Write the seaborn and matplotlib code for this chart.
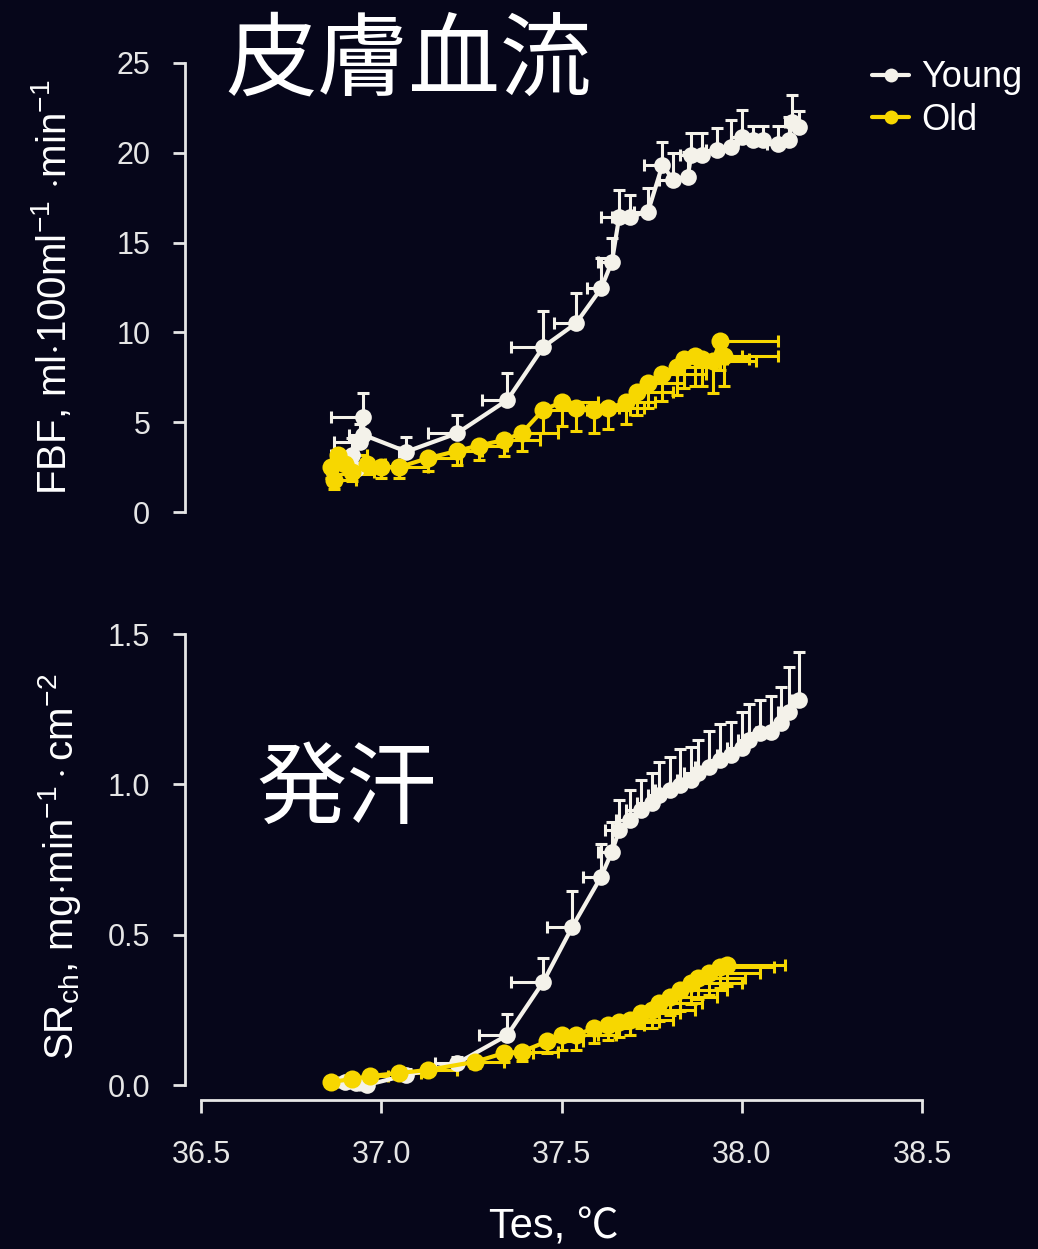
import numpy as np
import pandas as pd
import seaborn as sns
import matplotlib.pyplot as plt
from matplotlib.lines import Line2D

# valores
young_fbf_x = [36.93, 36.92, 36.94, 36.95, 36.95, 37.07, 37.21, 37.35, 37.45, 37.54, 37.61, 37.64, 37.66,
               37.69, 37.74, 37.78, 37.81, 37.85, 37.86, 37.89, 37.93, 37.97, 38.00, 38.03, 38.06, 38.10,
               38.13, 38.14, 38.16]
young_fbf_y = [2.4, 3.2, 3.9, 5.3, 4.3, 3.36, 4.38, 6.24, 9.2, 10.5, 12.45, 13.94, 16.44,
               16.44, 16.72, 19.32, 18.49, 18.67, 19.88, 19.88, 20.16, 20.34, 20.9, 20.7, 20.7, 20.5,
               20.7, 21.7, 21.45]
young_fbf_yerr = [0.8, 0.9, 1.0, 1.3, 1.0, 0.8, 1.0, 1.5, 2.0, 1.7, 1.7, 1.3, 1.5,
                  1.2, 1.3, 1.3, 1.5, 1.4, 1.2, 1.2, 1.2, 1.5, 1.5, 0.8, 0.8, 1.0,
                  1.3, 1.5, 0.9]
young_fbf_xerr = [0.08, 0.06, 0.07, 0.09, 0.04, 0.02, 0.08, 0.07, 0.09, 0.06, 0.04, 0.04, 0.05,
                  0.05, 0.04, 0.05, 0.04, 0.04, 0.03, 0.04, 0.03, 0.04, 0.03, 0.04, 0.04, 0.03,
                  0.03, 0.02, 0.03]

old_fbf_x = [36.86, 36.87, 36.88, 36.90, 36.92, 36.96, 37.00, 37.05, 37.13, 37.21, 37.27, 37.34, 37.39,
             37.45, 37.50, 37.54, 37.59, 37.63, 37.68, 37.71, 37.74, 37.78, 37.82, 37.84, 37.87, 37.89,
             37.92, 37.94, 37.95]
old_fbf_y = [2.5, 1.8, 3.2, 2.7, 2.2, 2.7, 2.5, 2.5, 3.0, 3.4, 3.7, 4.0, 4.4,
             5.7, 6.1, 5.8, 5.7, 5.8, 6.1, 6.7, 7.2, 7.7, 8.1, 8.5, 8.7, 8.5,
             8.4, 9.5, 8.7]
old_fbf_yerr = [0.6, 0.5, 0.7, 0.6, 0.5, 0.6, 0.6, 0.6, 0.7, 0.8, 0.8, 0.9, 1.0,
                1.3, 1.3, 1.3, 1.3, 1.2, 1.2, 1.3, 1.4, 1.5, 1.6, 1.6, 1.7, 1.5,
                1.8, 1.6, 1.7]
old_fbf_xerr = [0.05, 0.06, 0.08, 0.05, 0.06, 0.05, 0.06, 0.08, 0.09, 0.07, 0.08, 0.10, 0.10,
                0.12, 0.10, 0.12, 0.10, 0.10, 0.08, 0.10, 0.10, 0.12, 0.10, 0.12, 0.13, 0.13,
                0.12, 0.16, 0.15]

young_sr_x = [36.90, 36.93, 36.96, 37.07, 37.21, 37.35, 37.45, 37.53, 37.61, 37.64, 37.66, 37.69,
              37.72, 37.75, 37.77, 37.80, 37.83, 37.86, 37.88, 37.91, 37.94, 37.97, 38.00, 38.02,
              38.05, 38.08, 38.11, 38.13, 38.16]
young_sr_y = [0.01, 0.005, 0.0, 0.033, 0.072, 0.166, 0.344, 0.526, 0.693, 0.776, 0.848, 0.881,
              0.915, 0.938, 0.964, 0.981, 0.998, 1.014, 1.037, 1.058, 1.081, 1.097, 1.12, 1.147,
              1.17, 1.174, 1.204, 1.24, 1.28]
young_sr_yerr = [0.01, 0.01, 0.01, 0.02, 0.02, 0.07, 0.08, 0.12, 0.11, 0.10, 0.10, 0.10,
                 0.10, 0.10, 0.11, 0.11, 0.12, 0.11, 0.11, 0.12, 0.12, 0.11, 0.12, 0.12,
                 0.11, 0.12, 0.12, 0.15, 0.16]
young_sr_xerr = [0.02, 0.02, 0.02, 0.02, 0.06, 0.08, 0.09, 0.07, 0.05, 0.04, 0.04, 0.04,
                 0.04, 0.04, 0.03, 0.04, 0.03, 0.04, 0.04, 0.04, 0.03, 0.04, 0.04, 0.03,
                 0.03, 0.04, 0.03, 0.03, 0.02]

old_sr_x = [36.86, 36.92, 36.97, 37.05, 37.13, 37.26, 37.34, 37.39, 37.46, 37.50, 37.54, 37.59,
            37.63, 37.66, 37.69, 37.72, 37.75, 37.77, 37.80, 37.83, 37.86, 37.88, 37.91, 37.94, 37.96]
old_sr_y = [0.01, 0.02, 0.03, 0.04, 0.05, 0.077, 0.106, 0.111, 0.145, 0.166, 0.166, 0.189,
            0.2, 0.211, 0.216, 0.238, 0.249, 0.272, 0.294, 0.316, 0.338, 0.355, 0.371, 0.393, 0.399]
old_sr_yerr = [0.01, 0.01, 0.01, 0.01, 0.015, 0.02, 0.03, 0.03, 0.04, 0.05, 0.05, 0.05,
               0.05, 0.05, 0.05, 0.05, 0.06, 0.06, 0.06, 0.07, 0.07, 0.07, 0.07, 0.07, 0.07]
old_sr_xerr = [0.03, 0.04, 0.05, 0.06, 0.08, 0.08, 0.08, 0.10, 0.10, 0.10, 0.11, 0.10,
               0.10, 0.11, 0.12, 0.11, 0.12, 0.12, 0.13, 0.13, 0.14, 0.13, 0.14, 0.15, 0.16]

groups = ['Young', 'Old']
colores = {'Young': '#f4f2ea', 'Old': '#f7d700'}
fondo = '#06061a'
eje = '#e6e6e6'

sns.set_theme(style='dark')
plt.rcParams['font.family'] = ['Liberation Sans', 'Noto Sans CJK JP', 'DejaVu Sans']
plt.rcParams['mathtext.fontset'] = 'custom'
plt.rcParams['mathtext.rm'] = 'Liberation Sans'
plt.rcParams['mathtext.it'] = 'Liberation Sans'

fbf = pd.concat([
    pd.DataFrame({'Tes': young_fbf_x, 'val': young_fbf_y, 'grupo': 'Young'}),
    pd.DataFrame({'Tes': old_fbf_x, 'val': old_fbf_y, 'grupo': 'Old'}),
])
sr = pd.concat([
    pd.DataFrame({'Tes': young_sr_x, 'val': young_sr_y, 'grupo': 'Young'}),
    pd.DataFrame({'Tes': old_sr_x, 'val': old_sr_y, 'grupo': 'Old'}),
])

fig = plt.figure(figsize=(10.38, 12.49), dpi=100, facecolor=fondo)
W, H = 1038, 1249
x0 = 36.5 - 16 / 360.5
ax1 = fig.add_axes([185 / W, 1 - 512 / H, (922 - 185) / W, 449 / H])
ax2 = fig.add_axes([185 / W, 1 - 1100 / H, (922 - 185) / W, 466 / H])


def dibujar(ax, df, errs):
    # barras de error de un solo lado: Young arriba/izquierda, Old abajo/derecha
    for g in groups:
        d = df[df['grupo'] == g]
        xe, ye = errs[g]
        z = np.zeros(len(d))
        if g == 'Young':
            xerr, yerr = [xe, z], [z, ye]
        else:
            xerr, yerr = [z, xe], [ye, z]
        ax.errorbar(d['Tes'], d['val'], xerr=xerr, yerr=yerr, fmt='none',
                    ecolor=colores[g], elinewidth=2.2, capsize=4.5, capthick=2.2,
                    clip_on=False, zorder=2)
    for g in groups:
        d = df[df['grupo'] == g]
        sns.lineplot(data=d, x='Tes', y='val', color=colores[g], sort=False,
                     marker='o', markersize=12 if g == 'Young' else 13,
                     markeredgewidth=0, linewidth=3, ax=ax, legend=False,
                     estimator=None, clip_on=False, zorder=3)


dibujar(ax1, fbf, {'Young': (young_fbf_xerr, young_fbf_yerr), 'Old': (old_fbf_xerr, old_fbf_yerr)})
dibujar(ax2, sr, {'Young': (young_sr_xerr, young_sr_yerr), 'Old': (old_sr_xerr, old_sr_yerr)})

for ax in (ax1, ax2):
    ax.set_facecolor(fondo)
    ax.set_xlim(x0, 38.5)
    ax.grid(False)
    for s in ['top', 'right']:
        ax.spines[s].set_visible(False)
    ax.spines['left'].set_color(eje)
    ax.spines['left'].set_linewidth(2)
    ax.tick_params(axis='y', colors=eje, labelsize=22, length=9, width=2, direction='out',
                   left=True, pad=16)

ax1.set_ylim(0, 25)
ax1.set_yticks([0, 5, 10, 15, 20, 25])
ax1.spines['bottom'].set_visible(False)
ax1.set_xticks([])
ax1.set_xlabel('')
ax1.set_ylabel(r'FBF, ml$\cdot$100ml$^{-1}$ $\cdot$min$^{-1}$', color='white', fontsize=29, labelpad=30)

ax2.set_ylim(-15 / 300.7, 1.5)
ax2.set_yticks([0.0, 0.5, 1.0, 1.5])
ax2.set_yticklabels(['0.0', '0.5', '1.0', '1.5'])
ax2.spines['left'].set_bounds(0, 1.5)
ax2.spines['bottom'].set_bounds(36.5, 38.5)
ax2.spines['bottom'].set_color(eje)
ax2.spines['bottom'].set_linewidth(2)
ax2.set_xticks([36.5, 37.0, 37.5, 38.0, 38.5])
ax2.set_xticklabels(['36.5', '37.0', '37.5', '38.0', '38.5'])
ax2.tick_params(axis='x', colors=eje, labelsize=22, length=9, width=2, direction='out',
                bottom=True, pad=20)
ax2.set_ylabel(r'SR$_{\rm ch}$, mg$\cdot$min$^{-1}\cdot$cm$^{-2}$', color='white', fontsize=29, labelpad=18)
ax2.set_xlabel('Tes, ℃', color='white', fontsize=30, labelpad=27)

fig.text(409 / W, 1 - 62 / H, '皮膚血流', color='white', fontsize=66,
         family=['Noto Sans CJK JP'], ha='center', va='center')
fig.text(347 / W, 1 - 792 / H, '発汗', color='white', fontsize=65,
         family=['Noto Sans CJK JP'], ha='center', va='center')

handles = [Line2D([], [], color=colores[g], marker='o', markersize=10, linewidth=3, markeredgewidth=0)
           for g in groups]
fig.legend(handles, groups, loc='upper left', bbox_to_anchor=(858 / W, 1 - 46 / H),
           frameon=False, fontsize=26, labelcolor='white', handlelength=1.0,
           handletextpad=0.35, labelspacing=0.2, borderaxespad=0)

plt.savefig('out.png', dpi=100, facecolor=fondo)
